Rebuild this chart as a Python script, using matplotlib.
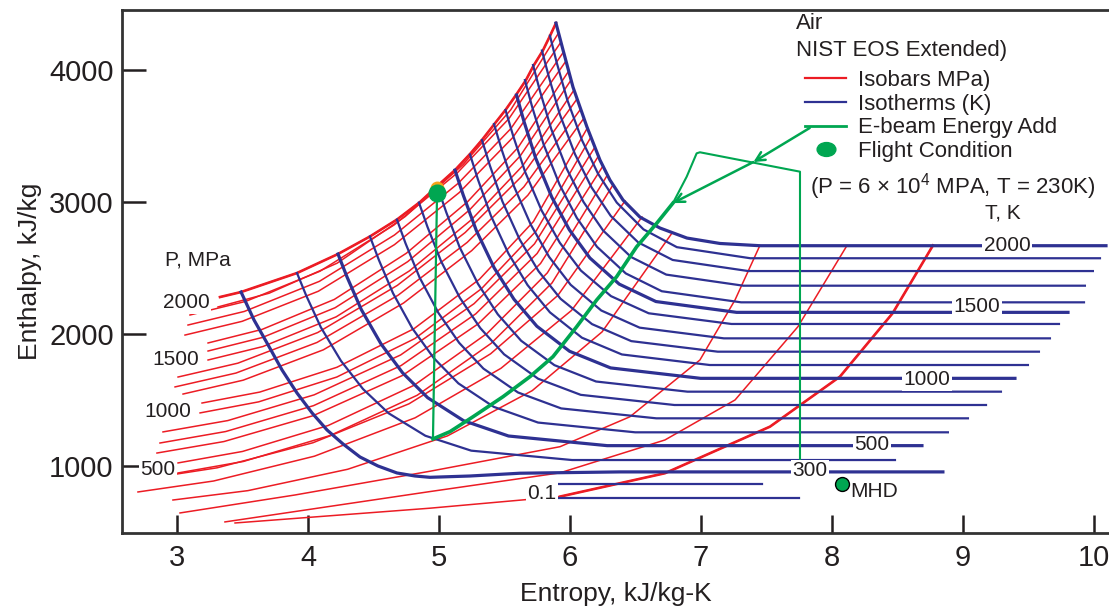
import matplotlib
matplotlib.use("Agg")
import matplotlib.pyplot as plt
from matplotlib.lines import Line2D
from matplotlib.markers import MarkerStyle
from matplotlib.transforms import Affine2D

plt.rcParams['font.family'] = ['Liberation Sans', 'DejaVu Sans']

RED = '#ec1c24'
BLUE = '#2e3192'
GREEN = '#00a651'
ORANGE = '#f5a31a'
INK = '#231f20'

# Isotherms (K): entropy (kJ/kg-K) and enthalpy (kJ/kg)
isotherm_T = [300, 400, 500, 600, 700, 800, 900, 1000, 1100, 1200,
              1300, 1400, 1500, 1600, 1700, 1800, 1900, 2000]
isotherm_s = [
    [3.489, 3.588, 3.687, 3.802, 3.916, 4.031, 4.145, 4.267, 4.397, 4.534, 4.679, 4.817, 4.931, 5.237, 5.618, 6.382, 8.847],
    [3.916, 3.986, 4.098, 4.252, 4.420, 4.616, 4.896, 5.246, 6.016, 8.481],
    [4.229, 4.298, 4.407, 4.558, 4.722, 4.914, 5.188, 5.531, 6.284, 8.687],
    [4.473, 4.541, 4.649, 4.797, 4.959, 5.148, 5.418, 5.756, 6.498, 8.885],
    [4.679, 4.745, 4.851, 4.996, 5.154, 5.339, 5.603, 5.933, 6.659, 9.038],
    [4.847, 4.912, 5.016, 5.159, 5.315, 5.497, 5.757, 6.082, 6.797, 9.176],
    [4.992, 5.056, 5.157, 5.297, 5.449, 5.627, 5.881, 6.199, 6.897, 9.290],
    [5.122, 5.185, 5.285, 5.422, 5.572, 5.747, 5.997, 6.310, 6.997, 9.397],
    [5.237, 5.298, 5.396, 5.530, 5.676, 5.847, 6.091, 6.396, 7.067, 9.496],
    [5.328, 5.388, 5.484, 5.616, 5.760, 5.928, 6.168, 6.468, 7.128, 9.580],
    [5.420, 5.479, 5.572, 5.701, 5.841, 6.005, 6.239, 6.532, 7.175, 9.664],
    [5.508, 5.566, 5.658, 5.784, 5.922, 6.083, 6.313, 6.601, 7.233, 9.733],
    [5.592, 5.648, 5.738, 5.861, 5.995, 6.152, 6.376, 6.656, 7.272, 9.802],
    [5.656, 5.711, 5.799, 5.920, 6.052, 6.206, 6.426, 6.701, 7.306, 9.924],
    [5.718, 5.772, 5.857, 5.975, 6.103, 6.253, 6.467, 6.735, 7.323, 9.931],
    [5.786, 5.839, 5.923, 6.038, 6.164, 6.311, 6.521, 6.784, 7.361, 9.992],
    [5.847, 5.898, 5.980, 6.092, 6.214, 6.357, 6.561, 6.816, 7.377, 10.046],
    [5.893, 5.947, 6.023, 6.130, 6.229, 6.305, 6.405, 6.534, 6.687, 6.893, 7.145, 7.450, 10.092],
]
isotherm_h = [
    [2318, 2106, 1932, 1727, 1553, 1402, 1273, 1167, 1068, 1000, 947, 924, 914, 924, 945, 955, 955],
    [2462, 2292, 2051, 1796, 1583, 1399, 1229, 1116, 1045, 1045],
    [2606, 2432, 2185, 1924, 1706, 1517, 1343, 1227, 1154, 1154],
    [2739, 2561, 2309, 2042, 1819, 1626, 1448, 1329, 1255, 1255],
    [2867, 2686, 2430, 2159, 1933, 1738, 1557, 1436, 1361, 1361],
    [2996, 2812, 2551, 2275, 2045, 1846, 1661, 1539, 1462, 1462],
    [3106, 2921, 2659, 2381, 2149, 1949, 1764, 1640, 1563, 1563],
    [3242, 3053, 2784, 2500, 2264, 2059, 1869, 1743, 1664, 1664],
    [3360, 3169, 2897, 2610, 2371, 2164, 1972, 1845, 1765, 1765],
    [3470, 3278, 3005, 2716, 2476, 2267, 2075, 1946, 1866, 1866],
    [3591, 3396, 3120, 2828, 2584, 2373, 2178, 2048, 1967, 1967],
    [3697, 3502, 3227, 2935, 2692, 2481, 2287, 2157, 2076, 2076],
    [3811, 3613, 3333, 3037, 2790, 2576, 2378, 2246, 2164, 2164],
    [3924, 3722, 3436, 3133, 2880, 2661, 2459, 2324, 2240, 2240],
    [4038, 3837, 3553, 3252, 3001, 2784, 2583, 2450, 2366, 2366],
    [4148, 3947, 3663, 3363, 3112, 2895, 2694, 2561, 2477, 2477],
    [4261, 4059, 3772, 3468, 3215, 2996, 2793, 2658, 2574, 2574],
    [4356, 4152, 3871, 3568, 3318, 3167, 3015, 2886, 2803, 2727, 2686, 2669, 2669],
]
isotherm_bold = [300, 500, 1000, 1500, 2000]

# short cold lines beside the 0.1 label
cold_s = [[5.901, 7.466], [5.901, 7.748]]
cold_h = [[861, 861], [755, 755]]

# Isobars (MPa), from the highest pressure (upper envelope) downwards
isobar_s = [
    [3.328, 3.489, 3.916, 4.229, 4.473, 4.679, 4.855, 5.021, 5.122, 5.237, 5.328, 5.427, 5.511, 5.588, 5.664, 5.720, 5.792, 5.847, 5.893],
    [3.313, 3.703, 4.223, 4.742, 5.184, 5.548, 5.912],
    [3.099, 3.524, 4.090, 4.657, 5.138, 5.535, 5.931],
    [3.084, 3.514, 4.087, 4.660, 5.148, 5.549, 5.950],
    [3.061, 3.497, 4.079, 4.660, 5.155, 5.562, 5.969],
    [3.237, 3.650, 4.201, 4.751, 5.219, 5.605, 5.990],
    [3.237, 3.653, 4.207, 4.761, 5.232, 5.620, 6.008],
    [3.237, 3.656, 4.215, 4.774, 5.249, 5.640, 6.031],
    [3.008, 3.465, 4.074, 4.683, 5.200, 5.627, 6.053],
    [2.985, 3.450, 4.069, 4.688, 5.215, 5.648, 6.082],
    [3.046, 3.505, 4.117, 4.730, 5.250, 5.678, 6.107],
    [3.191, 3.632, 4.221, 4.809, 5.309, 5.721, 6.133],
    [3.176, 3.624, 4.220, 4.817, 5.324, 5.742, 6.160],
    [2.893, 3.388, 4.047, 4.707, 5.268, 5.729, 6.191],
    [2.870, 3.372, 4.042, 4.711, 5.281, 5.749, 6.218],
    [2.847, 3.358, 4.039, 4.720, 5.299, 5.775, 6.252],
    [3.008, 3.500, 4.155, 4.811, 5.368, 5.827, 6.286],
    [3.008, 3.506, 4.170, 4.834, 5.398, 5.863, 6.328],
    [2.756, 3.306, 4.038, 4.771, 5.394, 5.907, 6.420],
    [2.702, 3.279, 4.049, 4.818, 5.473, 6.011, 6.550],
    [2.969, 3.541, 4.303, 5.065, 5.712, 6.245, 6.779],
    [3.023, 3.900, 4.931, 5.924, 6.458, 6.992, 7.260, 7.450],
    [3.366, 4.931, 5.924, 6.725, 7.260, 7.740, 8.115],
    [3.443, 4.931, 5.924, 6.725, 7.527, 8.061, 8.463, 8.771],
]
isobar_h = [
    [2280, 2318, 2462, 2606, 2739, 2867, 3000, 3152, 3242, 3364, 3470, 3596, 3702, 3811, 3924, 4030, 4146, 4258, 4356],
    [2205, 2309, 2537, 2890, 3284, 3699, 4280],
    [2144, 2247, 2475, 2826, 3219, 3633, 4212],
    [2068, 2171, 2399, 2750, 3143, 3557, 4136],
    [1992, 2096, 2324, 2677, 3072, 3487, 4068],
    [1932, 2035, 2262, 2612, 3003, 3415, 3992],
    [1871, 1974, 2199, 2548, 2939, 3349, 3924],
    [1803, 1905, 2130, 2478, 2867, 3276, 3849],
    [1674, 1779, 2011, 2369, 2769, 3190, 3780],
    [1599, 1704, 1936, 2294, 2694, 3115, 3705],
    [1545, 1650, 1880, 2235, 2632, 3051, 3636],
    [1477, 1560, 1748, 2040, 2415, 2852, 3561],
    [1402, 1486, 1674, 1966, 2343, 2781, 3492],
    [1258, 1344, 1539, 1841, 2230, 2683, 3417],
    [1174, 1261, 1457, 1761, 2153, 2610, 3349],
    [1098, 1185, 1381, 1685, 2077, 2534, 3273],
    [1023, 1110, 1307, 1612, 2005, 2463, 3205],
    [947, 1034, 1231, 1536, 1929, 2387, 3129],
    [902, 986, 1176, 1471, 1850, 2292, 3008],
    [803, 886, 1074, 1365, 1740, 2178, 2886],
    [742, 813, 975, 1228, 1571, 2016, 2765],
    [644, 780, 960, 1146, 1373, 1803, 2258, 2671],
    [576, 806, 948, 1197, 1500, 2055, 2671],
    [568, 680, 768, 945, 1298, 1677, 2157, 2671],
]
# isobar index -> first point of its heavy stretch
isobar_bold_from = {0: 0, 23: 2}

# isobar labels (MPa) and isotherm labels (K)
p_label_text = ['2000', '1500', '1000', '500', '0.1']
p_label_s = [3.069, 2.992, 2.931, 2.855, 5.786]
p_label_h = [2235, 1803, 1409, 977, 795]
t_label_text = ['2000', '1500', '1000', '500', '300']
t_label_s = [9.336, 9.107, 8.725, 8.305, 7.832]
t_label_h = [2669, 2212, 1652, 1159, 962]

# E-beam energy addition path
drop_s = [4.985, 4.954]
drop_h = [3053, 1205]
heat_s = [4.954, 5.084, 5.260, 5.489, 5.695, 5.870, 6.051, 6.204, 6.356, 6.509, 6.662, 6.786]
heat_h = [1205, 1260, 1373, 1525, 1677, 1828, 2055, 2258, 2434, 2661, 2839, 2992]
tail_s = [6.786, 6.891, 6.967, 6.992, 7.756, 7.756]
tail_h = [2992, 3192, 3369, 3377, 3230, 1000]

flight_s, flight_h = 4.985, 3068
orange_s, orange_h = 4.985, 3110
mhd_s, mhd_h = 8.076, 864

fig = plt.figure(figsize=(11.09, 6.07), dpi=100)
ax = fig.add_axes([0.110, 0.1219, 0.890, 0.8616])

for i, (s, h) in enumerate(zip(isobar_s, isobar_h)):
    ax.plot(s, h, color=RED, lw=1.1, zorder=2)
    if i in isobar_bold_from:
        k = isobar_bold_from[i]
        ax.plot(s[k:], h[k:], color=RED, lw=1.9, zorder=2)

for T, s, h in zip(isotherm_T, isotherm_s, isotherm_h):
    ax.plot(s, h, color=BLUE, lw=2.3 if T in isotherm_bold else 1.6, zorder=3)
for s, h in zip(cold_s, cold_h):
    ax.plot(s, h, color=BLUE, lw=1.6, zorder=3)

ax.plot(drop_s, drop_h, color=GREEN, lw=1.6, zorder=4)
ax.plot(heat_s, heat_h, color=GREEN, lw=2.6, zorder=4)
ax.plot(tail_s, tail_h, color=GREEN, lw=1.5, zorder=4)
ax.plot(orange_s, orange_h, 'o', color=ORANGE, ms=9, zorder=5)
ax.plot(flight_s, flight_h, 'o', color=GREEN, ms=12, zorder=6)
ax.plot(mhd_s, mhd_h, 'o', color=GREEN, mec='black', mew=1.0, ms=10, zorder=6)
ax.text(mhd_s + 0.06, mhd_h - 55, 'MHD', fontsize=15, color=INK, va='center', ha='left')

# pointer from the legend line to the heating curve
ax.annotate('', xy=(7.40, 3303), xytext=(7.83, 3561),
            arrowprops=dict(arrowstyle='->', color=GREEN, lw=1.8, mutation_scale=16,
                            shrinkA=0, shrinkB=0), zorder=5)
ax.annotate('', xy=(6.786, 2992), xytext=(7.40, 3303),
            arrowprops=dict(arrowstyle='->', color=GREEN, lw=1.8, mutation_scale=16,
                            shrinkA=0, shrinkB=0), zorder=5)

box = dict(facecolor='white', edgecolor='none', pad=1.0)
for txt, s, h in zip(p_label_text, p_label_s, p_label_h):
    ax.text(s, h, txt, fontsize=15, color=INK, ha='center', va='center', bbox=box, zorder=7)
for txt, s, h in zip(t_label_text, t_label_s, t_label_h):
    ax.text(s, h, txt, fontsize=15, color=INK, ha='center', va='center', bbox=box, zorder=7)

ax.text(2.908, 2561, 'P, MPa', fontsize=15, color=INK, ha='left', va='center')
ax.text(9.168, 2917, 'T, K', fontsize=15, color=INK, ha='left', va='center')

ax.text(0.683, 0.974, 'Air', transform=ax.transAxes, fontsize=16, color=INK, va='center')
ax.text(0.683, 0.923, 'NIST EOS Extended)', transform=ax.transAxes, fontsize=16,
        color=INK, va='center')
ax.text(0.697, 0.663, '(P = 6 \u00d7 10$^{\\mathregular{4}}$ MPA, T = 230K)', transform=ax.transAxes,
        fontsize=16, color=INK, va='center')

oval = MarkerStyle('o', transform=Affine2D().scale(1.35, 1.0))
handles = [Line2D([], [], color=RED, lw=1.6),
           Line2D([], [], color=BLUE, lw=1.6),
           Line2D([], [], color=GREEN, lw=2.0),
           Line2D([], [], color=GREEN, marker=oval, ls='', ms=10)]
labels = ['Isobars MPa)', 'Isotherms (K)', 'E-beam Energy Add', 'Flight Condition']
leg = ax.legend(handles, labels, loc='upper left', bbox_to_anchor=(0.692, 0.885),
                frameon=False, fontsize=16, borderpad=0, borderaxespad=0,
                handlelength=1.85, handletextpad=0.55, labelspacing=0.12)
for t in leg.get_texts():
    t.set_color(INK)

ax.set_xlim(2.58, 10.115)
ax.set_ylim(492, 4455)
ax.set_xticks([3, 4, 5, 6, 7, 8, 9, 10])
ax.set_yticks([1000, 2000, 3000, 4000])
ax.tick_params(axis='both', direction='in', width=1.8, labelsize=21, colors=INK)
ax.tick_params(axis='x', length=13, pad=8)
ax.tick_params(axis='y', length=17, pad=6)
ax.set_xlabel('Entropy, kJ/kg-K', fontsize=19, color=INK, labelpad=7)
ax.set_ylabel('Enthalpy, kJ/kg', fontsize=19, color=INK, labelpad=5)
for side in ['left', 'bottom', 'top']:
    ax.spines[side].set_linewidth(2.0)
    ax.spines[side].set_color('#333333')
ax.spines['right'].set_visible(False)

fig.savefig('out.png', dpi=100)
